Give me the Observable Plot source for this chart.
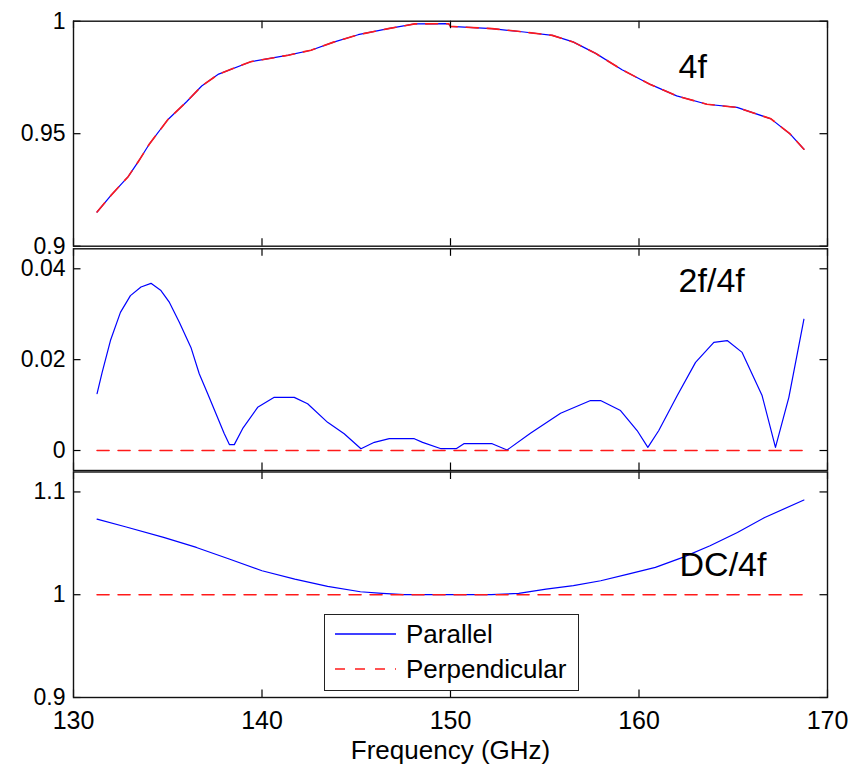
<!DOCTYPE html>
<html><head><meta charset="utf-8">
<script src="https://cdn.jsdelivr.net/npm/d3@7"></script>
<script src="https://cdn.jsdelivr.net/npm/@observablehq/plot@0.6"></script>
<style>
html,body{margin:0;padding:0;background:#fff;}
#wrap{position:relative;width:855px;height:765px;font-family:"Liberation Sans",Arial,sans-serif;overflow:hidden;}
#legend{position:absolute;left:324px;top:614px;width:253px;height:75px;border:1.4px solid #222;background:#fff;font-family:"Liberation Sans",Arial,sans-serif;font-size:26px;color:#000;}
#legend .row{position:absolute;left:10px;height:30px;display:flex;align-items:center;}
#legend .row svg{position:static;margin-right:10px;}
</style></head><body><div id="wrap"></div>
<script>
// ---- data ----
const xTicks = [130, 140, 150, 160, 170];

// Panel 1: 4f
const f4f = [131.25, 132.0, 132.9, 133.5, 134.0, 135.0, 136.0, 136.8, 137.7, 139.4, 141.4, 142.6, 143.8, 145.1, 146.7, 148.1, 149.9, 150.0, 152.2, 153.9, 155.4, 156.5, 157.7, 159.1, 160.6, 162.0, 163.6, 165.2, 167.0, 168.0, 168.75];
const par4f = [0.9152, 0.9227, 0.9309, 0.9384, 0.9451, 0.9562, 0.9642, 0.9712, 0.9765, 0.9820, 0.9849, 0.9871, 0.9907, 0.9940, 0.9967, 0.9988, 0.9989, 0.9977, 0.9967, 0.9952, 0.9937, 0.9908, 0.9857, 0.9784, 0.9719, 0.9668, 0.9631, 0.9617, 0.9566, 0.9500, 0.9431];
const perp4f = [0.9152, 0.9227, 0.9309, 0.9384, 0.9451, 0.9562, 0.9642, 0.9712, 0.9765, 0.9820, 0.9849, 0.9871, 0.9907, 0.9940, 0.9967, 0.9988, 0.9989, 0.9977, 0.9967, 0.9952, 0.9937, 0.9908, 0.9857, 0.9784, 0.9719, 0.9668, 0.9631, 0.9617, 0.9566, 0.9500, 0.9431];
const yTicks4f = [0.9, 0.95, 1];

// Panel 2: 2f/4f
const f2f = [131.25, 131.52, 131.96, 132.49, 133.02, 133.58, 134.11, 134.64, 135.09, 135.62, 136.23, 136.67, 137.12, 137.56, 138.0, 138.27, 138.53, 138.97, 139.77, 140.65, 141.71, 142.42, 143.48, 144.36, 145.25, 145.96, 146.75, 148.08, 148.52, 149.5, 150.3, 150.71, 152.21, 153.0, 154.24, 155.84, 157.43, 157.96, 159.02, 159.9, 160.47, 161.05, 162.03, 163.0, 163.97, 164.68, 165.47, 166.53, 167.24, 167.95, 168.75];
const par2f = [0.0125, 0.0172, 0.0242, 0.0304, 0.0341, 0.0360, 0.0368, 0.0352, 0.0326, 0.0282, 0.0227, 0.0169, 0.0125, 0.0081, 0.0037, 0.0013, 0.0013, 0.0048, 0.0095, 0.0117, 0.0117, 0.0103, 0.0062, 0.0037, 0.0004, 0.0018, 0.0026, 0.0026, 0.0018, 0.0004, 0.0004, 0.0015, 0.0015, 0.0001, 0.0038, 0.0082, 0.0110, 0.0110, 0.0088, 0.0044, 0.0007, 0.0044, 0.0121, 0.0194, 0.0238, 0.0242, 0.0216, 0.0121, 0.0007, 0.0117, 0.0289];
const fPerp2f = [131.25, 168.75];
const perp2f = [0, 0];
const yTicks2f = [0, 0.02, 0.04];

// Panel 3: DC/4f
const fdc = [131.25, 132.75, 134.78, 136.52, 138.26, 140.0, 141.74, 143.48, 145.22, 146.38, 147.54, 152.17, 153.62, 155.07, 156.52, 157.97, 159.42, 160.87, 162.32, 163.77, 165.22, 166.67, 168.75];
const pardc = [1.0736, 1.0661, 1.0558, 1.0460, 1.0347, 1.0233, 1.0152, 1.0081, 1.0029, 1.0013, 1.0000, 1.0000, 1.0013, 1.0055, 1.0088, 1.0136, 1.0201, 1.0266, 1.0363, 1.0476, 1.0606, 1.0752, 1.0921];
const fPerpdc = [131.25, 168.75];
const perpdc = [1, 1];
const yTicksdc = [0.9, 1, 1.1];

// panel labels (text, x, y in data units)
const labelText = ["4f", "2f/4f", "DC/4f"];
const labelX = [162.1, 162.1, 162.15];
const labelY = [0.9796, 0.0373, 1.0286];

const legendLabels = ["Parallel", "Perpendicular"];

// ---- drawing ----
const W = 855, H = 765, ML = 73, MR = 28;
const BLUE = "#0000ff", RED = "#ff1a1a";
const FONT = "'Liberation Sans', Arial, sans-serif";
const wrap = document.getElementById("wrap");

function panel({top, bottom, yDomain, yTicks, fx, par, fperp, perp, idx, showX}) {
  const plotW = W - ML - MR, plotH = bottom - top;
  const marks = [
    Plot.line(par, {x: fx, y: par, stroke: BLUE, strokeWidth: 1.2}),
    Plot.line(perp, {x: fperp, y: perp, stroke: RED, strokeWidth: 1.6, strokeDasharray: "12,9"}),
    Plot.tickY(yTicks, {y: d => d, insetRight: plotW - 7.5, stroke: "#000", strokeWidth: 1.2}),
    Plot.tickY(yTicks, {y: d => d, insetLeft: plotW - 7.5, stroke: "#000", strokeWidth: 1.2}),
    Plot.tickX(xTicks, {x: d => d, insetTop: plotH - 7.5, stroke: "#000", strokeWidth: 1.2}),
    Plot.tickX(xTicks, {x: d => d, insetBottom: plotH - 7.5, stroke: "#000", strokeWidth: 1.2}),
    Plot.frame({stroke: "#111", strokeWidth: 1.4}),
    Plot.axisY({ticks: yTicks, tickSize: 0, tickPadding: 8, tickFormat: d => String(d), fontSize: 23, label: null}),
    Plot.text([labelText[idx]], {x: [labelX[idx]], y: [labelY[idx]], text: d => d, textAnchor: "start", fontSize: 34, fill: "#000"})
  ];
  if (showX) {
    marks.push(Plot.axisX({ticks: xTicks, tickSize: 0, tickPadding: 14, tickFormat: d => String(d), fontSize: 25, label: null}));
    marks.push(Plot.text(["Frequency (GHz)"], {frameAnchor: "bottom", lineAnchor: "bottom", dy: 61, fontSize: 26, fill: "#000"}));
  }
  const svg = Plot.plot({
    width: W, height: H,
    marginLeft: ML, marginRight: MR, marginTop: top, marginBottom: H - bottom,
    x: {domain: [130, 170], axis: showX ? undefined : null},
    y: {domain: yDomain},
    style: {background: "transparent", overflow: "visible", fontFamily: FONT, color: "#000"},
    marks
  });
  svg.style.position = "absolute";
  svg.style.left = "0px";
  svg.style.top = "0px";
  wrap.appendChild(svg);
}

panel({top: 20.7, bottom: 245.7, yDomain: [0.9, 1], yTicks: yTicks4f, fx: f4f, par: par4f, fperp: f4f, perp: perp4f, idx: 0, showX: false});
panel({top: 248.3, bottom: 470, yDomain: [-0.0044, 0.0444], yTicks: yTicks2f, fx: f2f, par: par2f, fperp: fPerp2f, perp: perp2f, idx: 1, showX: false});
panel({top: 471.5, bottom: 697, yDomain: [0.9, 1.1194], yTicks: yTicksdc, fx: fdc, par: pardc, fperp: fPerpdc, perp: perpdc, idx: 2, showX: true});

// legend
const leg = document.createElement("div");
leg.id = "legend";
const styles = [{stroke: BLUE, dash: null, w: 1.3}, {stroke: RED, dash: "10,10", w: 1.6}];
legendLabels.forEach((t, i) => {
  const row = document.createElement("div");
  row.className = "row";
  row.style.top = (i === 0 ? 4 : 39) + "px";
  const s = styles[i];
  row.innerHTML = `<svg width="61" height="10"><line x1="0" x2="61" y1="5" y2="5" stroke="${s.stroke}" stroke-width="${s.w}" ${s.dash ? `stroke-dasharray="${s.dash}"` : ""}/></svg><span>${t}</span>`;
  leg.appendChild(row);
});
wrap.appendChild(leg);
</script>
</body></html>
